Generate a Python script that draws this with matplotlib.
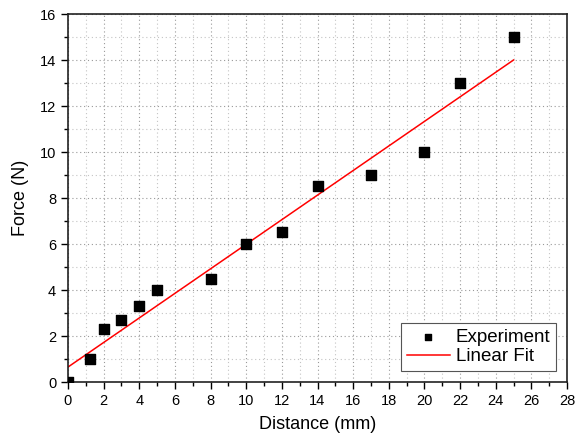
import matplotlib
matplotlib.use('Agg')
import matplotlib.pyplot as plt
from matplotlib.ticker import MultipleLocator

plt.rcParams['font.family'] = ['Liberation Sans', 'DejaVu Sans']

distance = [0, 1.25, 2, 3, 4, 5, 8, 10, 12, 14, 17, 20, 22, 25]
force = [0, 1, 2.3, 2.7, 3.3, 4, 4.5, 6, 6.5, 8.5, 9, 10, 13, 15]
fit_x = [0, 25]
fit_y = [0.65, 14.0]

fig = plt.figure(figsize=(5.88, 4.40), dpi=100)
ax = fig.add_axes([68 / 588, 1 - 382 / 440, (567 - 68) / 588, (382 - 14) / 440])

ax.scatter(distance, force, marker='s', s=42, color='black', zorder=3, label='Experiment')
ax.plot(fit_x, fit_y, color='red', lw=1.1, zorder=2, label='Linear Fit')

ax.set_xlim(0, 28)
ax.set_ylim(0, 16)
ax.xaxis.set_major_locator(MultipleLocator(2))
ax.xaxis.set_minor_locator(MultipleLocator(1))
ax.yaxis.set_major_locator(MultipleLocator(2))
ax.yaxis.set_minor_locator(MultipleLocator(1))
ax.grid(True, which='major', color='#999999', linestyle=(0, (1, 2.5)), lw=0.8)
ax.grid(True, which='minor', color='#c4c4c4', linestyle=(0, (1, 2.5)), lw=0.8)
ax.set_axisbelow(True)

ax.tick_params(which='major', direction='out', length=5, width=1, labelsize=10.5)
ax.tick_params(which='minor', direction='out', length=3, width=1)
ax.tick_params(top=False, right=False, which='both')
for s in ax.spines.values():
    s.set_linewidth(1.2)
    s.set_color('#222222')

ax.set_xlabel('Distance (mm)', fontsize=13, labelpad=6)
ax.set_ylabel('Force (N)', fontsize=13, labelpad=8)

leg = ax.legend(loc='lower right', fontsize=13.5, fancybox=False, framealpha=1,
                edgecolor='#555555', handlelength=2.3, borderaxespad=0.6,
                handletextpad=0.3, labelspacing=0.1, scatterpoints=1,
                markerscale=0.75, borderpad=0.3)
leg.get_frame().set_linewidth(0.8)

fig.savefig('out.png', dpi=100)
